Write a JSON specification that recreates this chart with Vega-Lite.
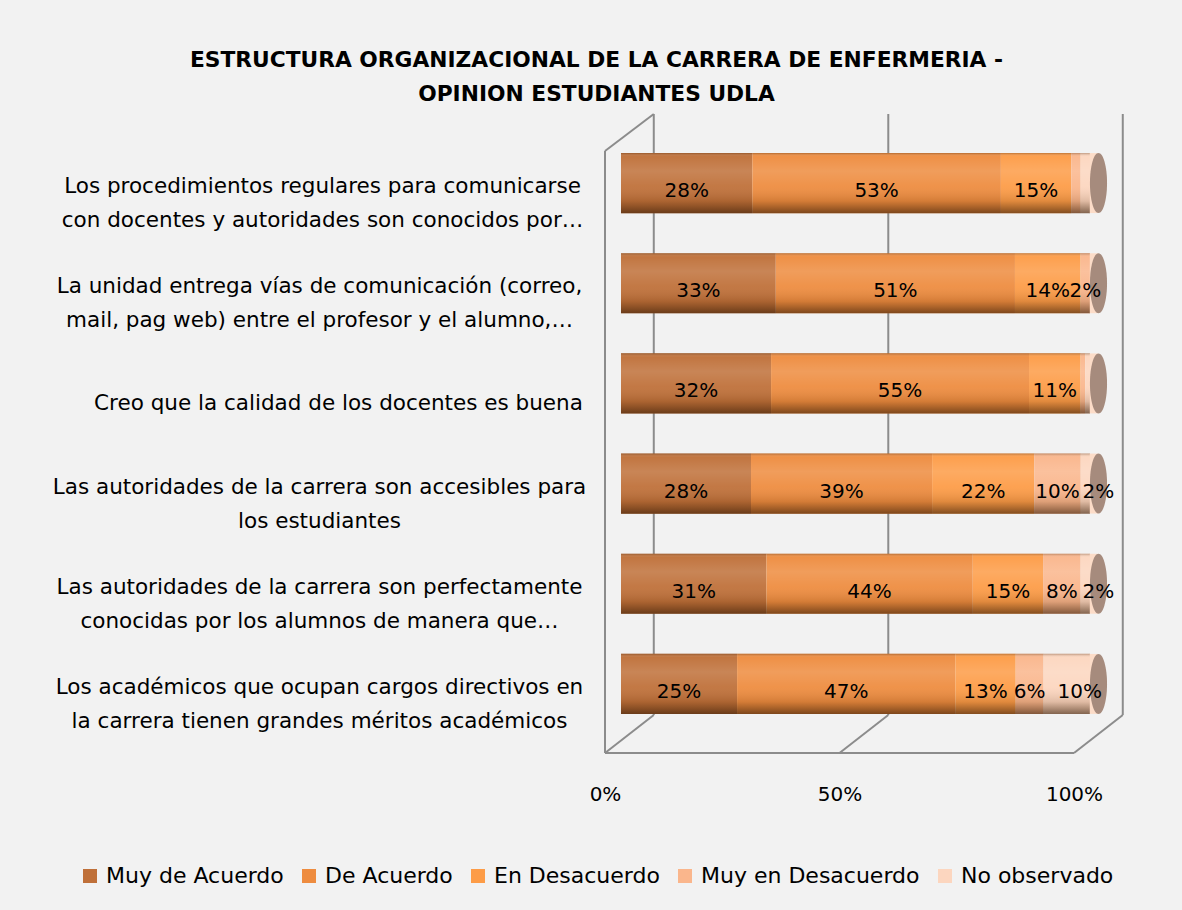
{
  "$schema": "https://vega.github.io/schema/vega-lite/v6.json",
  "width": 469,
  "height": 601,
  "autosize": "none",
  "padding": {"left": 605, "top": 133, "right": 108, "bottom": 176},
  "background": "#f2f2f2",
  "config": {"view": {"stroke": null}, "font": "DejaVu Sans"},
  "title": {
    "text": ["ESTRUCTURA ORGANIZACIONAL DE LA CARRERA DE ENFERMERIA -", "OPINION ESTUDIANTES UDLA"],
    "fontSize": 21.75, "fontWeight": "bold", "font": "DejaVu Sans", "color": "#000000",
    "lineHeight": 34, "anchor": "middle", "dx": -243, "offset": 7
  },
  "datasets": {
    "resp": [
      {"pregunta": "Los procedimientos regulares para comunicarse|con docentes y autoridades son conocidos por…", "respuesta": "Muy de Acuerdo", "orden": 1, "valor": 28, "etiqueta": "28%"},
      {"pregunta": "Los procedimientos regulares para comunicarse|con docentes y autoridades son conocidos por…", "respuesta": "De Acuerdo", "orden": 2, "valor": 53, "etiqueta": "53%"},
      {"pregunta": "Los procedimientos regulares para comunicarse|con docentes y autoridades son conocidos por…", "respuesta": "En Desacuerdo", "orden": 3, "valor": 15, "etiqueta": "15%"},
      {"pregunta": "Los procedimientos regulares para comunicarse|con docentes y autoridades son conocidos por…", "respuesta": "Muy en Desacuerdo", "orden": 4, "valor": 2, "etiqueta": ""},
      {"pregunta": "Los procedimientos regulares para comunicarse|con docentes y autoridades son conocidos por…", "respuesta": "No observado", "orden": 5, "valor": 2, "etiqueta": ""},
      {"pregunta": "La unidad entrega vías de comunicación (correo,|mail, pag web) entre el profesor y el alumno,…", "respuesta": "Muy de Acuerdo", "orden": 1, "valor": 33, "etiqueta": "33%"},
      {"pregunta": "La unidad entrega vías de comunicación (correo,|mail, pag web) entre el profesor y el alumno,…", "respuesta": "De Acuerdo", "orden": 2, "valor": 51, "etiqueta": "51%"},
      {"pregunta": "La unidad entrega vías de comunicación (correo,|mail, pag web) entre el profesor y el alumno,…", "respuesta": "En Desacuerdo", "orden": 3, "valor": 14, "etiqueta": "14%"},
      {"pregunta": "La unidad entrega vías de comunicación (correo,|mail, pag web) entre el profesor y el alumno,…", "respuesta": "Muy en Desacuerdo", "orden": 4, "valor": 2, "etiqueta": "2%"},
      {"pregunta": "La unidad entrega vías de comunicación (correo,|mail, pag web) entre el profesor y el alumno,…", "respuesta": "No observado", "orden": 5, "valor": 0, "etiqueta": ""},
      {"pregunta": "Creo que la calidad de los docentes es buena", "respuesta": "Muy de Acuerdo", "orden": 1, "valor": 32, "etiqueta": "32%"},
      {"pregunta": "Creo que la calidad de los docentes es buena", "respuesta": "De Acuerdo", "orden": 2, "valor": 55, "etiqueta": "55%"},
      {"pregunta": "Creo que la calidad de los docentes es buena", "respuesta": "En Desacuerdo", "orden": 3, "valor": 11, "etiqueta": "11%"},
      {"pregunta": "Creo que la calidad de los docentes es buena", "respuesta": "Muy en Desacuerdo", "orden": 4, "valor": 1, "etiqueta": ""},
      {"pregunta": "Creo que la calidad de los docentes es buena", "respuesta": "No observado", "orden": 5, "valor": 1, "etiqueta": ""},
      {"pregunta": "Las autoridades de la carrera son accesibles para|los estudiantes", "respuesta": "Muy de Acuerdo", "orden": 1, "valor": 28, "etiqueta": "28%"},
      {"pregunta": "Las autoridades de la carrera son accesibles para|los estudiantes", "respuesta": "De Acuerdo", "orden": 2, "valor": 39, "etiqueta": "39%"},
      {"pregunta": "Las autoridades de la carrera son accesibles para|los estudiantes", "respuesta": "En Desacuerdo", "orden": 3, "valor": 22, "etiqueta": "22%"},
      {"pregunta": "Las autoridades de la carrera son accesibles para|los estudiantes", "respuesta": "Muy en Desacuerdo", "orden": 4, "valor": 10, "etiqueta": "10%"},
      {"pregunta": "Las autoridades de la carrera son accesibles para|los estudiantes", "respuesta": "No observado", "orden": 5, "valor": 2, "etiqueta": "2%"},
      {"pregunta": "Las autoridades de la carrera son perfectamente|conocidas por los alumnos de manera que…", "respuesta": "Muy de Acuerdo", "orden": 1, "valor": 31, "etiqueta": "31%"},
      {"pregunta": "Las autoridades de la carrera son perfectamente|conocidas por los alumnos de manera que…", "respuesta": "De Acuerdo", "orden": 2, "valor": 44, "etiqueta": "44%"},
      {"pregunta": "Las autoridades de la carrera son perfectamente|conocidas por los alumnos de manera que…", "respuesta": "En Desacuerdo", "orden": 3, "valor": 15, "etiqueta": "15%"},
      {"pregunta": "Las autoridades de la carrera son perfectamente|conocidas por los alumnos de manera que…", "respuesta": "Muy en Desacuerdo", "orden": 4, "valor": 8, "etiqueta": "8%"},
      {"pregunta": "Las autoridades de la carrera son perfectamente|conocidas por los alumnos de manera que…", "respuesta": "No observado", "orden": 5, "valor": 2, "etiqueta": "2%"},
      {"pregunta": "Los académicos que ocupan cargos directivos en|la carrera tienen grandes méritos académicos", "respuesta": "Muy de Acuerdo", "orden": 1, "valor": 25, "etiqueta": "25%"},
      {"pregunta": "Los académicos que ocupan cargos directivos en|la carrera tienen grandes méritos académicos", "respuesta": "De Acuerdo", "orden": 2, "valor": 47, "etiqueta": "47%"},
      {"pregunta": "Los académicos que ocupan cargos directivos en|la carrera tienen grandes méritos académicos", "respuesta": "En Desacuerdo", "orden": 3, "valor": 13, "etiqueta": "13%"},
      {"pregunta": "Los académicos que ocupan cargos directivos en|la carrera tienen grandes méritos académicos", "respuesta": "Muy en Desacuerdo", "orden": 4, "valor": 6, "etiqueta": "6%"},
      {"pregunta": "Los académicos que ocupan cargos directivos en|la carrera tienen grandes méritos académicos", "respuesta": "No observado", "orden": 5, "valor": 10, "etiqueta": "10%"}
    ],
    "marco": [
      {"x0": 0, "y0": -0.0316, "x1": 0, "y1": 0.970},
      {"x0": 0, "y0": 0.970, "x1": 0.104, "y1": 1.0316},
      {"x0": 0.104, "y0": 0.0316, "x1": 0.104, "y1": 1.0316},
      {"x0": 0.604, "y0": 0.0316, "x1": 0.604, "y1": 1.0316},
      {"x0": 1.104, "y0": 0.0316, "x1": 1.104, "y1": 1.0316},
      {"x0": 0, "y0": -0.0316, "x1": 1, "y1": -0.0316},
      {"x0": 0, "y0": -0.0316, "x1": 0.104, "y1": 0.0316},
      {"x0": 0.5, "y0": -0.0316, "x1": 0.604, "y1": 0.0316},
      {"x0": 1, "y0": -0.0316, "x1": 1.104, "y1": 0.0316}
    ]
  },
  "layer": [
    {
      "data": {"name": "marco"},
      "mark": {"type": "rule", "color": "#8c8c8c", "strokeWidth": 2},
      "encoding": {
        "x": {"field": "x0", "type": "quantitative", "scale": {"domain": [0, 1], "nice": false, "zero": false},
              "axis": {"values": [0, 0.5, 1], "format": ".0%", "grid": false, "domain": false, "ticks": false, "labelFlush": false, "labelPadding": 50, "labelFontSize": 20, "labelColor": "#000000", "labelFont": "DejaVu Sans", "title": null}},
        "x2": {"field": "x1"},
        "y": {"field": "y0", "type": "quantitative", "scale": {"domain": [0, 1], "nice": false, "zero": false}, "axis": null},
        "y2": {"field": "y1"}
      }
    },
    {
      "data": {"name": "resp"},
      "mark": {"type": "bar"},
      "encoding": {
        "y": {"field": "pregunta", "type": "nominal", "sort": null,
              "scale": {"paddingInner": 0.4, "paddingOuter": 0.2},
              "axis": {"title": null, "domain": false, "ticks": false, "grid": false,
                       "labelAlign": "center",
                       "labelPadding": {"condition": [
                         {"test": "datum.value == 'Creo que la calidad de los docentes es buena'", "value": 267},
                         {"test": "indexof(datum.value, 'Los procedimientos') == 0", "value": 283}
                       ], "value": 286},
                       "labelOffset": {"condition": {"test": "indexof(datum.value, '|') >= 0", "value": 4}, "value": 21},
                       "labelFontSize": 21.5, "labelColor": "#000000", "labelFont": "DejaVu Sans", "labelExpr": "split(datum.value, '|')", "labelLineHeight": 34, "labelLimit": 700}},
        "x": {"field": "valor", "type": "quantitative", "stack": "normalize", "scale": {"domain": [-0.0341, 0.9659], "nice": false, "zero": false}, "axis": null},
        "color": {"field": "respuesta", "type": "nominal",
                  "scale": {"domain": ["Muy de Acuerdo", "De Acuerdo", "En Desacuerdo", "Muy en Desacuerdo", "No observado"],
                            "range": ["#bf7039", "#ee8c3f", "#fd9c47", "#fab68c", "#fcd6bf"]},
                  "legend": {"orient": "none", "legendX": -526, "legendY": 732, "direction": "horizontal", "title": null, "labelFontSize": 22, "labelColor": "#000000", "labelFont": "DejaVu Sans", "symbolType": "square", "symbolSize": 196, "symbolStrokeWidth": 0, "symbolOpacity": 1, "columnPadding": 14, "labelOffset": 5, "labelLimit": 400}},
        "order": {"field": "orden", "type": "quantitative"}
      }
    },
    {
      "data": {"name": "resp"},
      "transform": [{"filter": "datum.orden == 1"}],
      "mark": {"type": "bar", "color": {"gradient": "linear", "x1": 0, "y1": 0, "x2": 0, "y2": 1,
        "stops": [
          {"offset": 0, "color": "rgba(80,40,10,0.35)"},
          {"offset": 0.06, "color": "rgba(255,255,255,0.04)"},
          {"offset": 0.3, "color": "rgba(255,255,255,0.15)"},
          {"offset": 0.55, "color": "rgba(255,255,255,0.06)"},
          {"offset": 0.8, "color": "rgba(60,30,5,0.15)"},
          {"offset": 1, "color": "rgba(50,25,5,0.6)"}
        ]}},
      "encoding": {
        "y": {"field": "pregunta", "type": "nominal", "sort": null, "scale": {"paddingInner": 0.4, "paddingOuter": 0.2}, "axis": null},
        "x": {"datum": 0, "type": "quantitative", "scale": {"domain": [-0.0341, 0.9659], "nice": false, "zero": false}, "axis": null},
        "x2": {"datum": 1}
      }
    },
    {
      "data": {"name": "resp"},
      "transform": [{"filter": "datum.orden == 1"}],
      "mark": {"type": "point", "shape": "M-0.14,-1L0.14,-1L0.14,1L-0.14,1Z", "size": 3600, "filled": true, "opacity": 1, "color": "#fcdcc8", "strokeWidth": 0, "xOffset": 4},
      "encoding": {
        "y": {"field": "pregunta", "type": "nominal", "sort": null, "scale": {"paddingInner": 0.4, "paddingOuter": 0.2}, "axis": null},
        "x": {"datum": 1, "type": "quantitative", "scale": {"domain": [-0.0341, 0.9659], "nice": false, "zero": false}, "axis": null}
      }
    },
    {
      "data": {"name": "resp"},
      "transform": [{"filter": "datum.orden == 1"}],
      "mark": {"type": "point", "shape": "M0,-1A0.285,1,0,1,1,0,1A0.285,1,0,1,1,0,-1Z", "size": 3600, "filled": true, "opacity": 1, "color": "#a68b7d", "strokeWidth": 0, "xOffset": 8.5},
      "encoding": {
        "y": {"field": "pregunta", "type": "nominal", "sort": null, "scale": {"paddingInner": 0.4, "paddingOuter": 0.2}, "axis": null},
        "x": {"datum": 1, "type": "quantitative", "scale": {"domain": [-0.0341, 0.9659], "nice": false, "zero": false}, "axis": null}
      }
    },
    {
      "data": {"name": "resp"},
      "mark": {"type": "text", "fontSize": 20, "font": "DejaVu Sans", "color": "#000000", "baseline": "middle", "dy": 8},
      "encoding": {
        "y": {"field": "pregunta", "type": "nominal", "sort": null, "scale": {"paddingInner": 0.4, "paddingOuter": 0.2}, "axis": null},
        "x": {"field": "valor", "type": "quantitative", "stack": "normalize", "bandPosition": 0.5, "scale": {"domain": [-0.0341, 0.9659], "nice": false, "zero": false}, "axis": null},
        "detail": {"field": "respuesta"},
        "order": {"field": "orden", "type": "quantitative"},
        "text": {"condition": {"test": "datum.orden < 5", "field": "etiqueta"}, "value": ""}
      }
    },
    {
      "data": {"name": "resp"},
      "mark": {"type": "text", "fontSize": 20, "font": "DejaVu Sans", "color": "#000000", "baseline": "middle", "dy": 8, "dx": 13},
      "encoding": {
        "y": {"field": "pregunta", "type": "nominal", "sort": null, "scale": {"paddingInner": 0.4, "paddingOuter": 0.2}, "axis": null},
        "x": {"field": "valor", "type": "quantitative", "stack": "normalize", "bandPosition": 0.5, "scale": {"domain": [-0.0341, 0.9659], "nice": false, "zero": false}, "axis": null},
        "detail": {"field": "respuesta"},
        "order": {"field": "orden", "type": "quantitative"},
        "text": {"condition": {"test": "datum.orden == 5", "field": "etiqueta"}, "value": ""}
      }
    }
  ],
  "resolve": {"scale": {"x": "independent", "y": "independent", "color": "independent"}}
}
